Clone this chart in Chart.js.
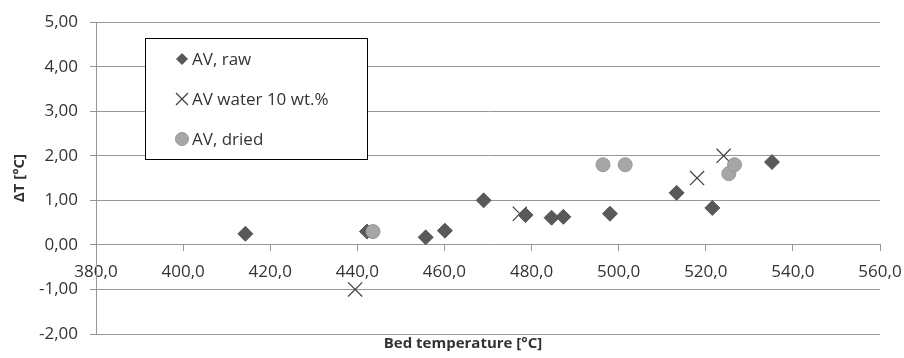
<!DOCTYPE html>
<html lang="en">
<head>
  <meta charset="UTF-8" />
  <title>Bed temperature vs delta T</title>
  <script src="https://cdn.jsdelivr.net/npm/chart.js"></script>
  <style>
    body {
      margin: 0;
      background: #ffffff;
    }
    #wrap {
      width: 904px;
      height: 358px;
    }
  </style>
</head>
<body>
  <div id="wrap">
    <canvas id="scatter" width="904" height="358"></canvas>
  </div>

  <script>
    // values
    const rawTemp = [414.3, 442.2, 455.7, 460.1, 469.0, 478.6, 484.6, 487.3, 498.0, 513.3, 521.5, 535.2];
    const rawDelta = [0.25, 0.30, 0.17, 0.32, 1.00, 0.67, 0.61, 0.63, 0.70, 1.17, 0.83, 1.86];
    const waterTemp = [439.5, 477.3, 518.0, 524.1];
    const waterDelta = [-1.00, 0.70, 1.50, 2.00];
    const driedTemp = [443.6, 496.4, 501.5, 525.3, 526.6];
    const driedDelta = [0.30, 1.80, 1.80, 1.60, 1.80];

    const seriesNames = ['AV, raw', 'AV water 10 wt.%', 'AV, dried'];
    const xTitle = 'Bed temperature [°C]';
    const yTitle = 'ΔT [°C]';
    const xMin = 380, xMax = 560, xStep = 20;
    const yMin = -2, yMax = 5, yStep = 1;

    const FONT = "'Open Sans', 'Liberation Sans', sans-serif";
    const TEXT = '#333333';
    const GRID = '#969696';

    function toPoints(xs, ys) {
      return xs.map((x, i) => ({ x: x, y: ys[i] }));
    }

    // legend box inside the plot, like the spreadsheet one
    const legendBox = {
      id: 'legendBox',
      afterDraw(chart) {
        const ctx = chart.ctx;
        ctx.save();
        ctx.fillStyle = '#ffffff';
        ctx.fillRect(145.5, 38.5, 222, 121);
        ctx.strokeStyle = '#000000';
        ctx.lineWidth = 1;
        ctx.strokeRect(145.5, 38.5, 222, 121);

        const rows = [59, 99, 139];
        const mx = 182;
        // diamond
        ctx.fillStyle = '#595959';
        ctx.beginPath();
        ctx.moveTo(mx, rows[0] - 6);
        ctx.lineTo(mx + 6, rows[0]);
        ctx.lineTo(mx, rows[0] + 6);
        ctx.lineTo(mx - 6, rows[0]);
        ctx.closePath();
        ctx.fill();
        // cross
        ctx.strokeStyle = '#404040';
        ctx.lineWidth = 1.2;
        ctx.beginPath();
        ctx.moveTo(mx - 6, rows[1] - 6);
        ctx.lineTo(mx + 6, rows[1] + 6);
        ctx.moveTo(mx + 6, rows[1] - 6);
        ctx.lineTo(mx - 6, rows[1] + 6);
        ctx.stroke();
        // circle
        ctx.fillStyle = '#a6a6a6';
        ctx.strokeStyle = '#969696';
        ctx.lineWidth = 1;
        ctx.beginPath();
        ctx.arc(mx, rows[2], 6.5, 0, Math.PI * 2);
        ctx.fill();
        ctx.stroke();

        ctx.fillStyle = TEXT;
        ctx.font = '17px ' + FONT;
        ctx.textAlign = 'left';
        ctx.textBaseline = 'middle';
        seriesNames.forEach((name, i) => ctx.fillText(name, 192, rows[i] + 1));
        ctx.restore();
      }
    };

    // axis titles
    const axisTitles = {
      id: 'axisTitles',
      afterDraw(chart) {
        const ctx = chart.ctx;
        const area = chart.chartArea;
        ctx.save();
        ctx.fillStyle = TEXT;
        ctx.font = 'bold 15px ' + FONT;
        ctx.textAlign = 'center';
        ctx.textBaseline = 'middle';
        ctx.fillText(xTitle, 463, 344);
        ctx.translate(20, (area.top + area.bottom) / 2);
        ctx.rotate(-Math.PI / 2);
        ctx.fillText(yTitle, 0, 0);
        ctx.restore();
      }
    };

    const chart = new Chart(document.getElementById('scatter'), {
      type: 'scatter',
      data: {
        datasets: [
          {
            label: seriesNames[2],
            data: toPoints(driedTemp, driedDelta),
            pointStyle: 'circle',
            pointRadius: 7,
            pointBackgroundColor: '#a6a6a6',
            pointBorderColor: '#969696',
            pointBorderWidth: 1
          },
          {
            label: seriesNames[0],
            data: toPoints(rawTemp, rawDelta),
            pointStyle: 'rectRot',
            pointRadius: 7.5,
            pointBackgroundColor: '#595959',
            pointBorderColor: '#595959',
            pointBorderWidth: 1
          },
          {
            label: seriesNames[1],
            data: toPoints(waterTemp, waterDelta),
            pointStyle: 'crossRot',
            pointRadius: 10,
            pointBackgroundColor: '#404040',
            pointBorderColor: '#404040',
            pointBorderWidth: 1.2
          }
        ]
      },
      options: {
        responsive: false,
        animation: false,
        events: [],
        layout: {
          padding: { left: 0, right: 24, top: 22, bottom: 24 }
        },
        plugins: {
          legend: { display: false },
          tooltip: { enabled: false }
        },
        scales: {
          x: {
            type: 'linear',
            min: xMin,
            max: xMax,
            position: { y: 0 },
            ticks: {
              stepSize: xStep,
              color: TEXT,
              font: { family: FONT, size: 17 },
              padding: 11,
              maxRotation: 0,
              callback: v => v.toFixed(1).replace('.', ',')
            },
            grid: {
              drawOnChartArea: false,
              drawTicks: true,
              tickLength: 6,
              color: GRID
            },
            border: { display: true, color: GRID, width: 1 },
            afterFit(scale) {
              scale.paddingLeft = 0;
              scale.paddingRight = 24;
            }
          },
          y: {
            type: 'linear',
            min: yMin,
            max: yMax,
            ticks: {
              stepSize: yStep,
              color: TEXT,
              font: { family: FONT, size: 17 },
              padding: 12,
              callback: v => v.toFixed(2).replace('.', ',')
            },
            grid: {
              color: GRID,
              tickLength: 6,
              drawTicks: true
            },
            border: { display: true, color: GRID, width: 1 },
            afterFit(scale) {
              scale.width = 96;
            }
          }
        }
      },
      plugins: [legendBox, axisTitles]
    });
  </script>
</body>
</html>
